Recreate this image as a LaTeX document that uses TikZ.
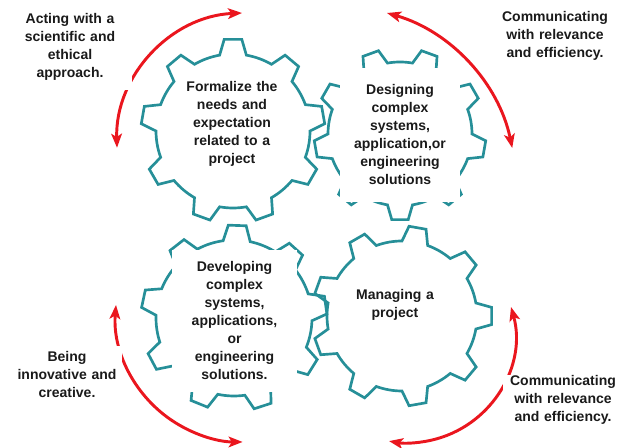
\documentclass[tikz,border=0pt]{standalone}
\usepackage{fontspec}
\setmainfont{Liberation Sans}
\usetikzlibrary{arrows.meta}
\definecolor{gearteal}{RGB}{38,143,152}
\definecolor{cyclered}{RGB}{234,22,30}
\definecolor{inkdark}{RGB}{26,26,26}
\tikzset{
  gearline/.style={gearteal, line width=2pt, line join=miter},
  cyclearrow/.style={cyclered, line width=2.2pt,
    {Stealth[length=10.5pt,width=8pt,inset=2.5pt]}-{Stealth[length=10.5pt,width=8pt,inset=2.5pt]}},
  gearlabel/.style={font=\bfseries\fontsize{10.5}{13.5}\selectfont, text=inkdark,
    align=center, fill=white, inner sep=0pt},
}
% #1 centre, #2 angle of first tooth, #3 inner radius, #4 outer radius
\newcommand{\cogwheel}[4]{%
  \draw[gearline, shift={#1}] (#2-20:#3)
    \foreach \k in {0,...,8} {
      arc[start angle=#2+40*\k-20, end angle=#2+40*\k-10, radius=#3]
      -- (#2+40*\k-5.5:#4) -- (#2+40*\k+5.5:#4) -- (#2+40*\k+10:#3)
      arc[start angle=#2+40*\k+10, end angle=#2+40*\k+20, radius=#3]
    } -- cycle;}

\begin{document}
\begin{tikzpicture}[x=0.75pt,y=0.75pt]
  \useasboundingbox (0,0) rectangle (628,448);

  % gears
  \coordinate (g1) at (233,317);
  \coordinate (g2) at (400,314);
  \coordinate (g3) at (234,130);
  \coordinate (g4) at (402,132);
  \cogwheel{(g1)}{90}{77}{92}
  \cogwheel{(g2)}{110}{72}{86}
  \cogwheel{(g3)}{88}{78}{93}
  \cogwheel{(g4)}{0}{75}{90}

  % red arrows round the gears
  \coordinate (a1) at (242,435);
  \coordinate (a2) at (387,435);
  \coordinate (a3) at (116,143);
  \coordinate (a4) at (511,141);
  \draw[cyclearrow] (a1) arc[start angle=92.6, end angle=181.7, radius=131];
  \draw[cyclearrow] (a2) arc[start angle=74, end angle=11.7, radius=178];
  \draw[cyclearrow] (a3) arc[start angle=175.5, end angle=270, radius=127];
  \draw[cyclearrow] (a4) arc[start angle=15.6, end angle=-100.2, radius=107];

  % texts in the gears
  \node[gearlabel, text width=76pt] (formalize) at (232,324)
    {Formalize the\\needs and\\expectation\\related to a\\project};
  \node[gearlabel, text width=90pt, minimum height=100pt] (designing) at (400,313)
    {Designing\\complex\\systems,\\application,or\\engineering\\solutions};
  \node[gearlabel, text width=93.75pt, minimum height=106.5pt] (developing) at (234.5,127)
    {Developing\\complex\\systems,\\applications,\\or\\engineering\\solutions.};
  \node[gearlabel, text width=80pt] (managing) at (395,143)
    {Managing a\\project};

  % texts beside the arrows
  \node[gearlabel, text width=93pt, minimum height=64pt] (acting) at (70,401)
    {Acting with a\\scientific and\\ethical\\approach.};
  \node[gearlabel, text width=90pt] (commtop) at (555,412)
    {Communicating\\with relevance\\and efficiency.};
  \node[gearlabel, text width=82.5pt, minimum height=44pt] (being) at (67,73)
    {Being\\innovative and\\creative.};
  \node[gearlabel, text width=90pt] (commbottom) at (563,48)
    {Communicating\\with relevance\\and efficiency.};
\end{tikzpicture}
\end{document}
